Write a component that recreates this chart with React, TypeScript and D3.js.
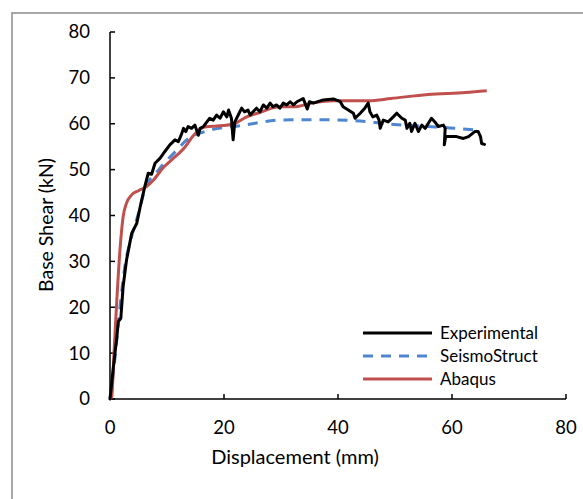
import React from "react";
import * as d3 from "d3";

const xTicks = [0, 20, 40, 60, 80];
const yTicks = [0, 10, 20, 30, 40, 50, 60, 70, 80];
const seriesNames = ["Experimental", "SeismoStruct", "Abaqus"];

const expX = [0, 0.6, 1.2, 1.46, 1.9, 2.3, 2.9, 3.8, 4.7, 5.3, 6.1, 6.7, 7.3, 7.9, 8.8, 9.6, 10.5, 11.4, 12.0, 12.6, 12.9, 13.3, 13.7, 14.3, 14.9, 15.5, 15.8, 16.4, 17.0, 17.5, 18.1, 18.7, 19.3, 19.9, 20.5, 20.8, 21.3, 21.6, 21.9, 22.5, 23.1, 23.6, 24.2, 24.6, 25.1, 25.7, 26.3, 26.9, 27.5, 28.1, 28.6, 29.2, 29.8, 30.4, 31.0, 31.6, 32.2, 32.8, 33.9, 34.6, 35.0, 35.7, 37.4, 39.2, 40.4, 40.9, 41.8, 42.7, 43.0, 43.9, 44.7, 45.3, 45.6, 46.1, 46.8, 47.2, 47.4, 47.95, 48.8, 49.7, 50.3, 51.2, 51.8, 52.1, 52.6, 52.9, 53.5, 54.1, 54.7, 55.3, 56.4, 57.0, 57.6, 58.5, 58.8, 58.65, 58.9, 60.8, 62.0, 62.9, 64.0, 64.6, 65.0, 65.2, 65.7];
const expY = [0, 7, 13.5, 16.9, 17.6, 24.5, 30.3, 36.1, 38.3, 41.9, 46.3, 49.2, 49.0, 51.4, 52.5, 53.9, 55.4, 56.5, 56.1, 57.9, 59.0, 58.3, 59.4, 59.0, 59.7, 57.5, 59.0, 59.4, 60.4, 61.2, 60.8, 61.9, 61.2, 62.6, 61.5, 63.0, 61.2, 56.5, 60.4, 61.9, 63.4, 62.6, 63.0, 61.9, 62.6, 63.4, 62.6, 64.1, 63.4, 64.5, 63.7, 64.1, 63.4, 64.5, 64.1, 64.8, 64.1, 64.8, 65.5, 63.2, 64.8, 64.5, 65.2, 65.4, 64.8, 63.7, 63.0, 62.3, 61.2, 62.3, 63.4, 64.5, 62.6, 61.5, 61.9, 60.8, 59.0, 60.8, 60.4, 61.5, 62.3, 61.2, 60.8, 59.0, 60.1, 58.3, 60.1, 58.3, 59.7, 59.0, 61.2, 60.4, 59.4, 59.7, 59.0, 55.4, 57.2, 57.2, 56.8, 57.2, 58.3, 58.3, 57.2, 55.7, 55.5];

const seiX = [0, 0.9, 1.75, 2.6, 3.8, 5.0, 6.1, 8.5, 12.0, 13.3, 17.3, 23.1, 29.7, 36.2, 42.7, 49.3, 55.8, 59.6, 64.6];
const seiY = [0, 9.2, 20.1, 28.8, 35.4, 40.5, 45.6, 49.9, 54.6, 56.3, 58.5, 59.6, 60.8, 60.9, 60.7, 59.9, 59.4, 59.1, 58.6];

const abaX = [0, 0.3, 0.7, 1.2, 1.75, 2.3, 2.9, 3.8, 5.0, 6.4, 7.6, 9.4, 10.8, 13.2, 14.6, 16.6, 19.9, 21.8, 23.8, 26.4, 29.7, 32.3, 35.6, 39.5, 45.4, 49.3, 55.8, 62.4, 66.1];
const abaY = [0, 0.5, 10, 21.6, 32.5, 39.7, 42.7, 44.5, 45.4, 46.3, 47.7, 50.5, 52.1, 55.0, 57.4, 59.3, 59.6, 60.0, 61.4, 62.5, 63.7, 63.7, 64.6, 65.0, 65.0, 65.5, 66.4, 66.8, 67.2];

const FONT = "Lato, 'Noto Sans', sans-serif";

export default function App() {
  const x = d3.scaleLinear().domain([0, 80]).range([110, 566]);
  const y = d3.scaleLinear().domain([0, 80]).range([399, 32]);

  const toPts = (xs: number[], ys: number[]) => xs.map((v, i) => [v, ys[i]] as [number, number]);
  const lineSharp = d3.line<[number, number]>().x((d) => x(d[0])).y((d) => y(d[1]));
  const lineSmooth = d3
    .line<[number, number]>()
    .x((d) => x(d[0]))
    .y((d) => y(d[1]))
    .curve(d3.curveMonotoneX);

  const legendY = [333, 356, 379];
  const colors = ["#000000", "#4F86D2", "#C0504D"];
  const dashes = [undefined, "10,8", undefined];

  return (
    <svg
      width={583}
      height={499}
      style={{ position: "absolute", left: 0, top: 0, background: "#fff" }}
    >
      <rect x={0} y={0} width={583} height={499} fill="#fff" />
      <rect x={12} y={13} width={600} height={520} fill="none" stroke="#8c8c8c" strokeWidth={1.5} />

      {/* axes */}
      <line x1={x(0)} x2={x(0)} y1={y(0)} y2={y(80)} stroke="#000" strokeWidth={1.5} />
      <line x1={x(0)} x2={x(80)} y1={y(0)} y2={y(0)} stroke="#000" strokeWidth={1.5} />
      {yTicks.map((t) => (
        <g key={"y" + t}>
          <line x1={x(0)} x2={x(0) + 5} y1={y(t)} y2={y(t)} stroke="#000" strokeWidth={1.5} />
          <text
            x={90}
            y={y(t)}
            dy="0.35em"
            textAnchor="end"
            fontFamily={FONT}
            fontSize={18.5}
            fill="#000"
          >
            {t}
          </text>
        </g>
      ))}
      {xTicks.map((t) => (
        <g key={"x" + t}>
          <line x1={x(t)} x2={x(t)} y1={y(0)} y2={y(0) - 5} stroke="#000" strokeWidth={1.5} />
          <text
            x={x(t)}
            y={428}
            dy="0.35em"
            textAnchor="middle"
            fontFamily={FONT}
            fontSize={18.5}
            fill="#000"
          >
            {t}
          </text>
        </g>
      ))}
      <text
        x={295}
        y={457}
        dy="0.35em"
        textAnchor="middle"
        fontFamily={FONT}
        fontSize={20}
        fill="#000"
      >
        Displacement (mm)
      </text>
      <text
        transform={`translate(46,225) rotate(-90)`}
        dy="0.35em"
        textAnchor="middle"
        fontFamily={FONT}
        fontSize={19.5}
        fill="#000"
      >
        Base Shear (kN)
      </text>

      {/* series */}
      <path d={lineSmooth(toPts(seiX, seiY)) || ""} fill="none" stroke={colors[1]} strokeWidth={3} strokeDasharray="10,8" />
      <path d={lineSmooth(toPts(abaX, abaY)) || ""} fill="none" stroke={colors[2]} strokeWidth={3} strokeLinejoin="round" />
      <path d={lineSharp(toPts(expX, expY)) || ""} fill="none" stroke={colors[0]} strokeWidth={3} strokeLinejoin="round" strokeLinecap="round" />

      {/* legend */}
      {seriesNames.map((n, i) => (
        <g key={n}>
          <line
            x1={363}
            x2={432}
            y1={legendY[i]}
            y2={legendY[i]}
            stroke={colors[i]}
            strokeWidth={3}
            strokeDasharray={dashes[i]}
          />
          <text
            x={440}
            y={legendY[i]}
            dy="0.35em"
            fontFamily={FONT}
            fontSize={17}
            fill="#000"
          >
            {n}
          </text>
        </g>
      ))}
    </svg>
  );
}
